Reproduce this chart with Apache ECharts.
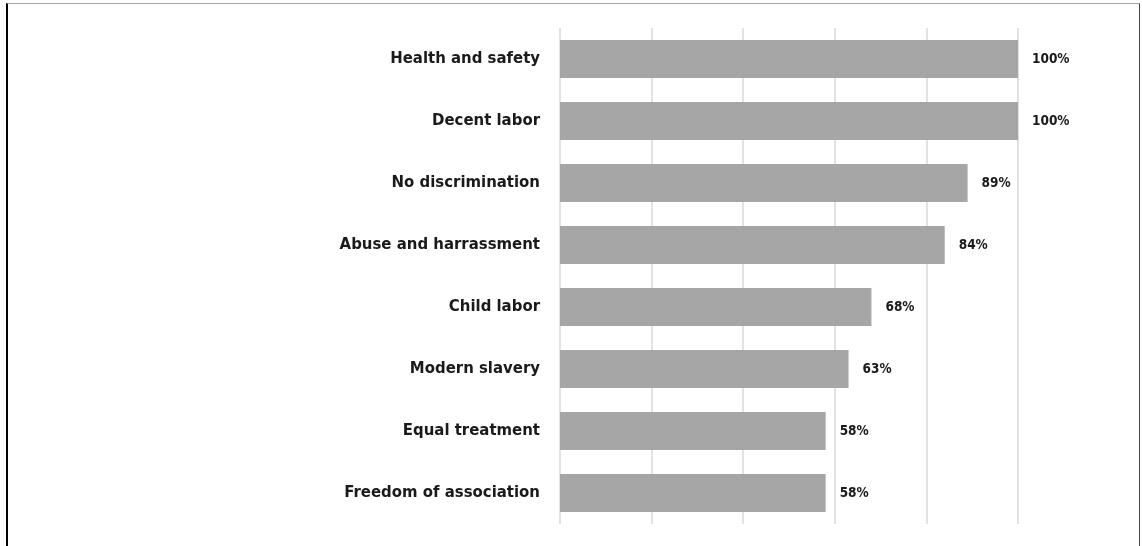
<!DOCTYPE html>
<html>
<head>
<meta charset="utf-8">
<script src="https://cdn.jsdelivr.net/npm/echarts@6/dist/echarts.min.js"></script>
<style>
  html, body { margin: 0; padding: 0; background: #fff; }
  #wrap { position: relative; width: 1142px; height: 546px; overflow: hidden; }
  #frame {
    position: absolute; left: 6px; top: 3px; width: 1134px; height: 560px;
    border-top: 1px solid #a6a6a6; border-left: 2px solid #000; border-right: 1px solid #444;
    box-sizing: border-box; pointer-events: none;
  }
  #chart { position: absolute; left: 0; top: 0; width: 1142px; height: 546px; }
</style>
</head>
<body>
<div id="wrap">
  <div id="chart"></div>
  <div id="frame"></div>
</div>
<script>
// Share of companies covering each labour-rights topic (%)
const categories = [
  'Health and safety',
  'Decent labor',
  'No discrimination',
  'Abuse and harrassment',
  'Child labor',
  'Modern slavery',
  'Equal treatment',
  'Freedom of association'
];
const values = [100, 100, 89, 84, 68, 63, 58, 58];

const FONT = '"DejaVu Sans Condensed", "Liberation Sans Narrow", sans-serif';

const chart = echarts.init(document.getElementById('chart'), null, { renderer: 'canvas' });
chart.setOption({
  animation: false,
  backgroundColor: 'transparent',
  grid: { left: 560, right: 124, top: 28, bottom: 22, containLabel: false },
  xAxis: {
    type: 'value',
    min: 0,
    max: 100,
    interval: 20,
    axisLine: { show: false },
    axisTick: { show: false },
    axisLabel: { show: false },
    splitLine: { show: true, lineStyle: { color: '#d9d9d9', width: 1.5 } }
  },
  yAxis: {
    type: 'category',
    data: categories,
    inverse: true,
    axisLine: { show: false },
    axisTick: { show: false },
    axisLabel: {
      margin: 20,
      fontFamily: FONT,
      fontWeight: 'bold',
      fontSize: 16.6,
      color: '#1a1a1a'
    }
  },
  series: [{
    type: 'bar',
    data: values,
    barWidth: '61%',
    itemStyle: { color: '#a6a6a6' },
    label: {
      show: true,
      position: 'right',
      distance: 14,
      formatter: p => p.value + '%',
      fontFamily: FONT,
      fontWeight: 'bold',
      fontSize: 13.5,
      color: '#1a1a1a'
    }
  }]
});
</script>
</body>
</html>
